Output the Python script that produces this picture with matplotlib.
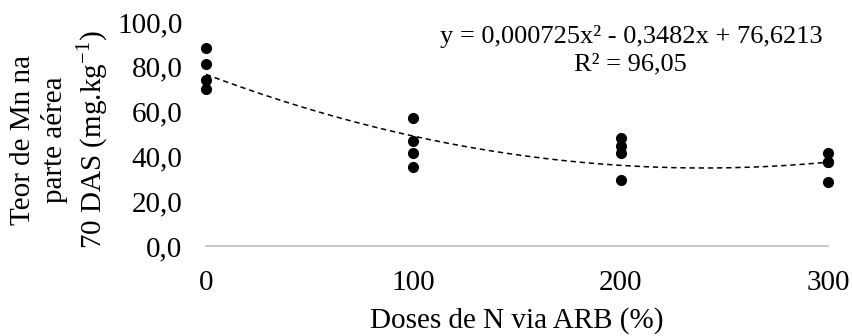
import numpy as np
import matplotlib
matplotlib.use("Agg")
import matplotlib.pyplot as plt

plt.rcParams['font.family'] = ['Liberation Serif', 'DejaVu Serif']
plt.rcParams['mathtext.fontset'] = 'custom'
plt.rcParams['mathtext.rm'] = 'Liberation Serif'

# observed values (Mn content) per dose
doses = [0, 0, 0, 0, 100, 100, 100, 100, 200, 200, 200, 200, 300, 300, 300, 300]
mn = [88.5, 81.1, 74.1, 70.1, 57.0, 47.0, 41.4, 35.1,
      48.1, 44.6, 41.4, 29.5, 41.4, 37.6, 37.6, 28.7]

# fitted quadratic
coef = [0.000725, -0.3482, 76.6213]
xticks = [0, 100, 200, 300]
yticks = [0, 20, 40, 60, 80, 100]

fig = plt.figure(figsize=(8.53, 3.36), dpi=100)
ax = fig.add_axes([0.2415, 0.268, 0.7292, 0.6665])

xs = np.linspace(0, 300, 200)
ax.plot(xs, np.polyval(coef, xs), color='black', linewidth=1.1,
        linestyle=(0, (3.5, 2.5)), zorder=2)
ax.plot(doses, mn, 'o', color='black', markersize=7, clip_on=False, zorder=3)

ax.set_xlim(0, 300)
ax.set_ylim(0, 100)
ax.set_xticks(xticks)
ax.set_yticks(yticks)
ax.set_yticklabels([f"{v:.1f}".replace('.', ',') for v in yticks])
ax.tick_params(length=0, labelsize=21)
ax.tick_params(axis='x', pad=17)
ax.tick_params(axis='y', pad=17)

for s in ['top', 'right', 'left']:
    ax.spines[s].set_visible(False)
ax.spines['bottom'].set_color('#bfbfbf')
ax.spines['bottom'].set_linewidth(1.2)

ax.set_xlabel("Doses de N via ARB (%)", fontsize=21, labelpad=8)
fig.text(60 / 853, 1 - 140 / 336,
         "Teor de Mn na\nparte aérea\n70 DAS (mg.kg$^{\\mathrm{-1}}$)",
         rotation=90, ha='center', va='center', multialignment='center',
         fontsize=21, linespacing=1.22)

ax.text(0.683, 0.875, "y = 0,000725x² - 0,3482x + 76,6213\nR² = 96,05",
        transform=ax.transAxes, ha='center', va='center', fontsize=19,
        linespacing=1.35)

fig.savefig("out.png", dpi=100)
